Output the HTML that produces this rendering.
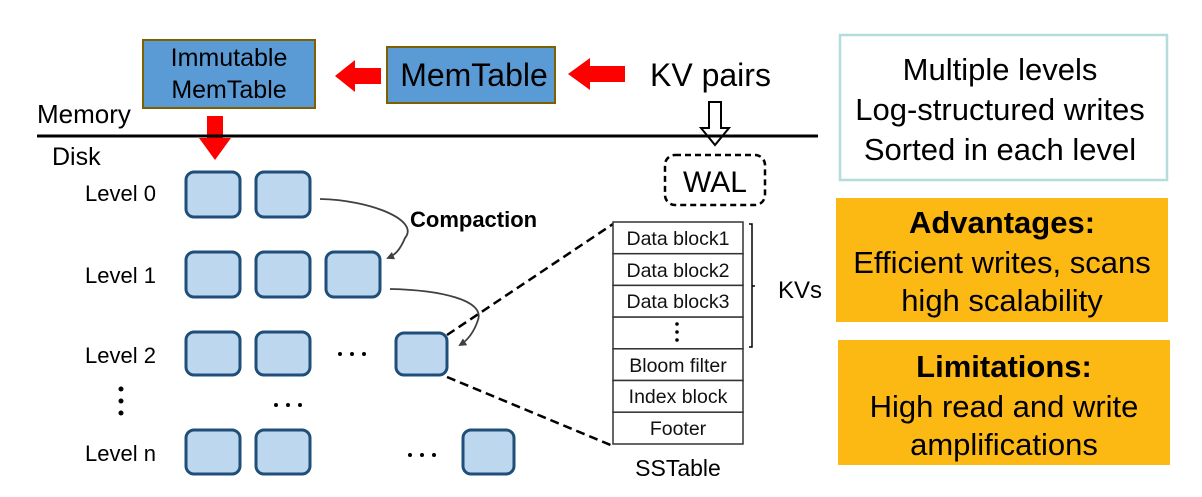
<!DOCTYPE html>
<html><head><style>
body{margin:0;width:1202px;height:492px;background:#fff;overflow:hidden;font-family:"Liberation Sans",sans-serif}
</style></head><body>
<svg width="1202" height="492" xmlns="http://www.w3.org/2000/svg" font-family="Liberation Sans, sans-serif">
<defs>
<marker id="ga" markerWidth="8" markerHeight="8" refX="6" refY="4" orient="auto" markerUnits="userSpaceOnUse"><path d="M0,0 L8,4 L0,8 Z" fill="#404040"/></marker>
</defs>
<rect x="143" y="40" width="172" height="68" fill="#5b9bd5" stroke="#7f6000" stroke-width="2"/>
<text x="229" y="66" font-size="25" text-anchor="middle">Immutable</text>
<text x="229" y="98" font-size="25" text-anchor="middle">MemTable</text>
<rect x="387" y="47" width="168" height="56" fill="#5b9bd5" stroke="#7f6000" stroke-width="2"/>
<text x="474" y="86" font-size="32" text-anchor="middle">MemTable</text>
<path d="M625,66 L590,66 L590,58 L568,74 L590,90 L590,82 L625,82 Z" fill="#f00"/>
<path d="M381,68 L355,68 L355,60 L335,76 L355,92 L355,84 L381,84 Z" fill="#f00"/>
<path d="M207,116 L223,116 L223,138 L231,138 L215,160 L199,138 L207,138 Z" fill="#f00"/>
<text x="650" y="86" font-size="32">KV pairs</text>
<path d="M709,102 L721,102 L721,128 L729,128 L715,145 L701,128 L709,128 Z" fill="#fff" stroke="#000" stroke-width="2"/>
<line x1="37" y1="136" x2="818" y2="136" stroke="#000" stroke-width="3"/>
<text x="37" y="123" font-size="26">Memory</text>
<text x="52" y="165" font-size="25">Disk</text>
<rect x="665" y="155" width="100" height="50" rx="10" fill="#fff" stroke="#000" stroke-width="2.5" stroke-dasharray="6,4"/>
<text x="715" y="192" font-size="30" text-anchor="middle">WAL</text>
<g font-size="22">
<text x="85" y="201">Level 0</text>
<text x="85" y="283">Level 1</text>
<text x="85" y="363">Level 2</text>
<text x="85" y="461">Level n</text>
</g>
<g fill="#bdd7ee" stroke="#1f4e79" stroke-width="3">
<rect x="186" y="172" width="54" height="45" rx="8"/>
<rect x="256" y="172" width="54" height="45" rx="8"/>
<rect x="186" y="252" width="54" height="45" rx="8"/>
<rect x="256" y="252" width="54" height="45" rx="8"/>
<rect x="326" y="252" width="54" height="45" rx="8"/>
<rect x="186" y="332" width="54" height="43" rx="8"/>
<rect x="256" y="332" width="54" height="43" rx="8"/>
<rect x="396" y="333" width="51" height="42" rx="8"/>
<rect x="186" y="430" width="54" height="44" rx="8"/>
<rect x="256" y="430" width="54" height="44" rx="8"/>
<rect x="463" y="430" width="51" height="44" rx="8"/>
</g>
<g fill="#000">
<circle cx="340" cy="354" r="2"/><circle cx="352" cy="354" r="2"/><circle cx="364" cy="354" r="2"/>
<circle cx="410" cy="455" r="2"/><circle cx="422" cy="455" r="2"/><circle cx="434" cy="455" r="2"/>
<circle cx="276" cy="405" r="2"/><circle cx="288" cy="405" r="2"/><circle cx="300" cy="405" r="2"/>
<circle cx="121" cy="389" r="2.5"/><circle cx="121" cy="401" r="2.5"/><circle cx="121" cy="413" r="2.5"/>
</g>
<path d="M320,199 C370,200 420,220 405,238 C400,250 395,255 388,258" fill="none" stroke="#404040" stroke-width="1.8" marker-end="url(#ga)"/>
<path d="M390,289 C440,290 485,300 478,320 C474,332 468,340 460,345" fill="none" stroke="#404040" stroke-width="1.8" marker-end="url(#ga)"/>
<text x="410" y="227" font-size="22" font-weight="bold">Compaction</text>
<line x1="447" y1="335" x2="613" y2="224" stroke="#000" stroke-width="2.5" stroke-dasharray="9,5"/>
<line x1="447" y1="377" x2="613" y2="446" stroke="#000" stroke-width="2.5" stroke-dasharray="9,5"/>
<g fill="#fff" stroke="#333" stroke-width="1.5">
<rect x="613" y="222" width="130" height="31.7"/>
<rect x="613" y="253.7" width="130" height="31.7"/>
<rect x="613" y="285.4" width="130" height="31.7"/>
<rect x="613" y="317.1" width="130" height="31.7"/>
<rect x="613" y="348.8" width="130" height="31.7"/>
<rect x="613" y="380.5" width="130" height="31.7"/>
<rect x="613" y="412.2" width="130" height="31.8"/>
</g>
<g font-size="19.5" text-anchor="middle" fill="#111">
<text x="678" y="245">Data block1</text>
<text x="678" y="277">Data block2</text>
<text x="678" y="308">Data block3</text>
<text x="678" y="372">Bloom filter</text>
<text x="678" y="403">Index block</text>
<text x="678" y="435">Footer</text>
</g>
<circle cx="677" cy="324" r="1.8"/><circle cx="677" cy="332" r="1.8"/><circle cx="677" cy="340" r="1.8"/>
<text x="678" y="476" font-size="23" text-anchor="middle">SSTable</text>
<path d="M749,224 L752,224 L752,347 L749,347 M752,286 L755,286" fill="none" stroke="#000" stroke-width="1.5"/>
<text x="778" y="298" font-size="24">KVs</text>
<rect x="840" y="35" width="327" height="145" fill="#fff" stroke="#b4dcdc" stroke-width="2.5"/>
<g font-size="31" text-anchor="middle">
<text x="1000" y="80">Multiple levels</text>
<text x="1000" y="120">Log-structured writes</text>
<text x="1000" y="160">Sorted in each level</text>
</g>
<rect x="836" y="198" width="332" height="124" fill="#fdb913"/>
<g font-size="31" text-anchor="middle">
<text x="1002" y="233" font-weight="bold">Advantages:</text>
<text x="1002" y="273">Efficient writes, scans</text>
<text x="1002" y="311">high scalability</text>
</g>
<rect x="838" y="340" width="332" height="125" fill="#fdb913"/>
<g font-size="31" text-anchor="middle">
<text x="1004" y="377" font-weight="bold">Limitations:</text>
<text x="1004" y="417">High read and write</text>
<text x="1004" y="455">amplifications</text>
</g>
</svg>
</body></html>
